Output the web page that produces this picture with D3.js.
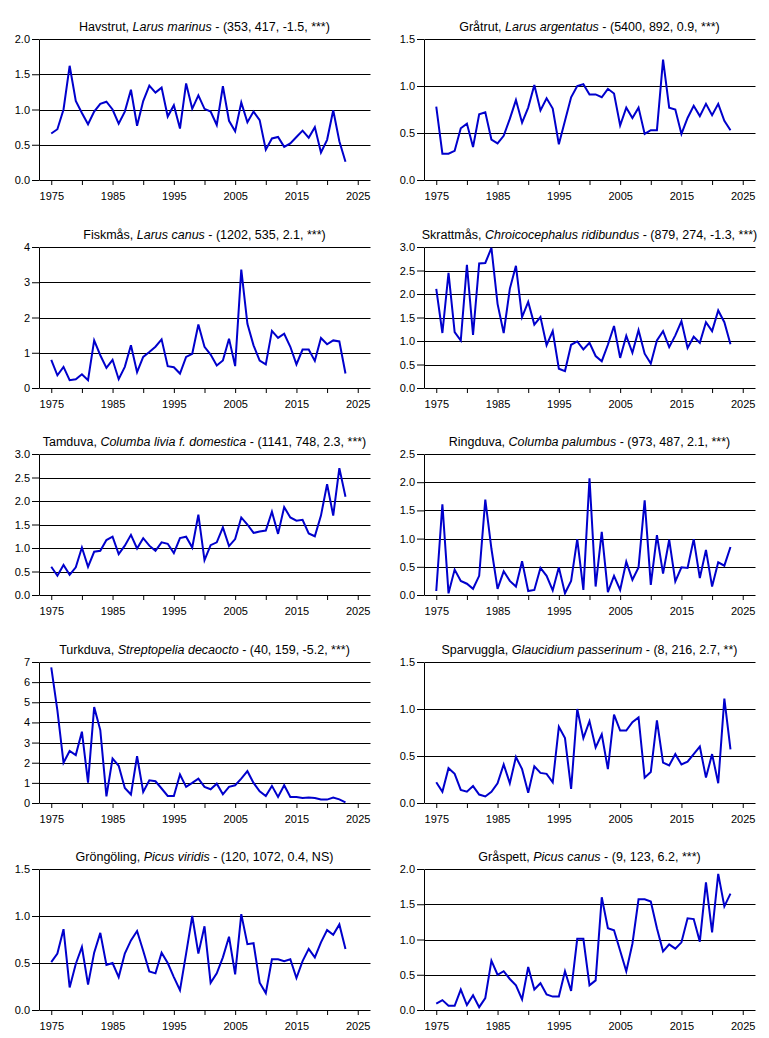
<!DOCTYPE html>
<html>
<head>
<meta charset="utf-8">
<script src="https://cdn.jsdelivr.net/npm/d3@7/dist/d3.min.js"></script>
<style>
  body { margin: 0; background: #fff; }
  svg text { font-family: "Liberation Sans", Arial, sans-serif; fill: #000; }
</style>
</head>
<body>
<svg id="chart" width="769" height="1038"></svg>
<script>

//============================================================
// Data (index per year)
//------------------------------------------------------------

var years = [1975, 1976, 1977, 1978, 1979, 1980, 1981, 1982, 1983, 1984,
             1985, 1986, 1987, 1988, 1989, 1990, 1991, 1992, 1993, 1994,
             1995, 1996, 1997, 1998, 1999, 2000, 2001, 2002, 2003, 2004,
             2005, 2006, 2007, 2008, 2009, 2010, 2011, 2012, 2013, 2014,
             2015, 2016, 2017, 2018, 2019, 2020, 2021, 2022, 2023];

var xTicks = [1975, 1980, 1985, 1990, 1995, 2000, 2005, 2010, 2015, 2020, 2025];
var xLabels = [1975, 1985, 1995, 2005, 2015, 2025];

var havstrut = [0.66, 0.72, 1.00, 1.62, 1.12, 0.95, 0.79, 0.97, 1.08, 1.11,
                1.00, 0.80, 0.97, 1.28, 0.77, 1.12, 1.34, 1.24, 1.31, 0.90,
                1.06, 0.73, 1.37, 1.01, 1.20, 1.01, 0.97, 0.78, 1.33, 0.84,
                0.69, 1.10, 0.82, 0.97, 0.85, 0.43, 0.59, 0.61, 0.47, 0.52,
                0.61, 0.70, 0.60, 0.75, 0.39, 0.57, 0.99, 0.55, 0.26];

var gratrut = [0.78, 0.28, 0.28, 0.31, 0.55, 0.60, 0.35, 0.70, 0.72, 0.43,
               0.39, 0.47, 0.65, 0.85, 0.61, 0.77, 1.01, 0.74, 0.87, 0.76,
               0.38, 0.63, 0.88, 1.00, 1.02, 0.91, 0.91, 0.88, 0.97, 0.92,
               0.58, 0.77, 0.66, 0.77, 0.49, 0.53, 0.53, 1.28, 0.77, 0.75,
               0.49, 0.66, 0.79, 0.68, 0.81, 0.69, 0.81, 0.63, 0.53];

var fiskmas = [0.80, 0.36, 0.60, 0.22, 0.25, 0.39, 0.22, 1.35, 0.93, 0.57,
               0.80, 0.25, 0.60, 1.21, 0.45, 0.88, 1.02, 1.17, 1.38, 0.62,
               0.59, 0.41, 0.88, 0.97, 1.80, 1.17, 0.95, 0.64, 0.78, 1.40,
               0.62, 3.36, 1.82, 1.21, 0.78, 0.67, 1.62, 1.42, 1.54, 1.17,
               0.67, 1.09, 1.09, 0.77, 1.42, 1.24, 1.35, 1.32, 0.41];

var skrattmas = [2.11, 1.17, 2.45, 1.19, 1.01, 2.62, 1.13, 2.65, 2.66, 2.98,
                 1.79, 1.17, 2.11, 2.60, 1.51, 1.83, 1.35, 1.51, 0.91, 1.21,
                 0.41, 0.36, 0.92, 0.99, 0.82, 0.96, 0.68, 0.57, 0.92, 1.32,
                 0.64, 1.11, 0.75, 1.23, 0.73, 0.52, 1.01, 1.21, 0.87, 1.12,
                 1.42, 0.85, 1.09, 0.96, 1.40, 1.21, 1.65, 1.40, 0.93];

var tamduva = [0.60, 0.41, 0.64, 0.43, 0.59, 1.01, 0.60, 0.92, 0.94, 1.17,
               1.24, 0.87, 1.05, 1.28, 0.99, 1.21, 1.05, 0.94, 1.12, 1.09,
               0.89, 1.21, 1.24, 1.01, 1.71, 0.74, 1.06, 1.12, 1.44, 1.04,
               1.19, 1.65, 1.50, 1.32, 1.35, 1.37, 1.77, 1.30, 1.87, 1.65,
               1.58, 1.60, 1.31, 1.25, 1.69, 2.36, 1.69, 2.70, 2.09];

var ringduva = [0.07, 1.61, 0.03, 0.45, 0.25, 0.20, 0.11, 0.34, 1.69, 0.82,
                0.11, 0.42, 0.25, 0.15, 0.60, 0.07, 0.09, 0.48, 0.34, 0.08,
                0.49, 0.03, 0.25, 0.99, 0.09, 2.07, 0.15, 1.12, 0.05, 0.34,
                0.09, 0.59, 0.27, 0.49, 1.68, 0.18, 1.06, 0.38, 0.98, 0.24,
                0.49, 0.48, 0.99, 0.30, 0.80, 0.15, 0.58, 0.52, 0.85];

var turkduva = [6.73, 4.60, 2.00, 2.58, 2.38, 3.54, 1.01, 4.76, 3.62, 0.33,
                2.21, 1.85, 0.75, 0.42, 2.33, 0.55, 1.13, 1.08, 0.72, 0.35,
                0.35, 1.41, 0.80, 1.00, 1.21, 0.80, 0.68, 0.96, 0.43, 0.80,
                0.88, 1.21, 1.58, 1.00, 0.58, 0.35, 0.85, 0.30, 0.88, 0.30,
                0.30, 0.25, 0.27, 0.25, 0.17, 0.17, 0.27, 0.18, 0.03];

var sparvuggla = [0.22, 0.12, 0.37, 0.31, 0.14, 0.12, 0.18, 0.09, 0.07, 0.12,
                  0.21, 0.41, 0.21, 0.49, 0.36, 0.11, 0.39, 0.32, 0.31, 0.22,
                  0.81, 0.69, 0.15, 1.00, 0.69, 0.87, 0.59, 0.73, 0.36, 0.94,
                  0.77, 0.77, 0.86, 0.91, 0.27, 0.33, 0.88, 0.43, 0.40, 0.52,
                  0.41, 0.44, 0.52, 0.60, 0.27, 0.52, 0.21, 1.11, 0.57];

var grongoling = [0.51, 0.60, 0.86, 0.24, 0.49, 0.67, 0.27, 0.61, 0.82, 0.48,
                  0.50, 0.35, 0.60, 0.74, 0.84, 0.63, 0.41, 0.39, 0.61, 0.50,
                  0.35, 0.21, 0.60, 1.00, 0.60, 0.89, 0.29, 0.39, 0.56, 0.78,
                  0.38, 1.02, 0.70, 0.71, 0.29, 0.18, 0.54, 0.54, 0.52, 0.54,
                  0.34, 0.52, 0.65, 0.56, 0.72, 0.85, 0.80, 0.91, 0.65];

var graspett = [0.09, 0.14, 0.06, 0.06, 0.29, 0.07, 0.21, 0.04, 0.17, 0.70,
                0.50, 0.55, 0.44, 0.35, 0.15, 0.61, 0.29, 0.38, 0.22, 0.19,
                0.19, 0.55, 0.27, 1.01, 1.01, 0.35, 0.42, 1.60, 1.16, 1.13,
                0.84, 0.55, 0.94, 1.57, 1.57, 1.54, 1.16, 0.83, 0.93, 0.87,
                0.96, 1.30, 1.29, 0.97, 1.81, 1.10, 1.93, 1.47, 1.65];

// panel titles and y-axis tick labels, in reading order
var names   = ['Havstrut', 'Gråtrut', 'Fiskmås', 'Skrattmås', 'Tamduva',
               'Ringduva', 'Turkduva', 'Sparvuggla', 'Gröngöling', 'Gråspett'];
var latin   = ['Larus marinus', 'Larus argentatus', 'Larus canus',
               'Chroicocephalus ridibundus', 'Columba livia f. domestica',
               'Columba palumbus', 'Streptopelia decaocto',
               'Glaucidium passerinum', 'Picus viridis', 'Picus canus'];
var stats   = ['(353, 417, -1.5, ***)', '(5400, 892, 0.9, ***)',
               '(1202, 535, 2.1, ***)', '(879, 274, -1.3, ***)',
               '(1141, 748, 2.3, ***)', '(973, 487, 2.1, ***)',
               '(40, 159, -5.2, ***)', '(8, 216, 2.7, **)',
               '(120, 1072, 0.4, NS)', '(9, 123, 6.2, ***)'];
var yTicks  = [[0, 0.5, 1, 1.5, 2], [0, 0.5, 1, 1.5], [0, 1, 2, 3, 4],
               [0, 0.5, 1, 1.5, 2, 2.5, 3], [0, 0.5, 1, 1.5, 2, 2.5, 3],
               [0, 0.5, 1, 1.5, 2, 2.5], [0, 1, 2, 3, 4, 5, 6, 7],
               [0, 0.5, 1, 1.5], [0, 0.5, 1, 1.5], [0, 0.5, 1, 1.5, 2]];
var series  = [havstrut, gratrut, fiskmas, skrattmas, tamduva,
               ringduva, turkduva, sparvuggla, grongoling, graspett];

//============================================================


//------------------------------------------------------------
// Layout

var svg = d3.select('#chart'),
    colLeft = [39, 424],
    plotWidth = 331,
    plotHeight = 141,
    rowTop = function(r) { return Math.round(39 + r * 207.6) },
    lineColor = '#0000cc';

//------------------------------------------------------------


series.forEach(function(values, i) {
  var left = colLeft[i % 2],
      top = rowTop(Math.floor(i / 2)),
      ticks = yTicks[i],
      yMax = ticks[ticks.length - 1],
      intTicks = ticks.every(function(t) { return t === Math.round(t) }),
      g = svg.append('g').attr('class', 'panel');

  var x = d3.scaleLinear()
      .domain([1973, 2027])
      .range([left, left + plotWidth]);

  var y = d3.scaleLinear()
      .domain([0, yMax])
      .range([top + plotHeight, top]);

  // gridlines
  g.selectAll('line.grid')
      .data(ticks.slice(1))
    .enter().append('line')
      .attr('class', 'grid')
      .attr('x1', left + 0.5)
      .attr('x2', left + plotWidth + 0.5)
      .attr('y1', function(d) { return Math.round(y(d)) + 0.5 })
      .attr('y2', function(d) { return Math.round(y(d)) + 0.5 })
      .style('stroke', '#000')
      .style('stroke-width', 1);

  // axes
  var yAxis = g.append('g')
      .attr('transform', 'translate(' + left + ',0)')
      .call(d3.axisLeft(y)
        .tickValues(ticks)
        .tickSizeInner(7)
        .tickSizeOuter(0)
        .tickPadding(2)
        .tickFormat(intTicks ? d3.format('d') : d3.format('.1f')));

  var xAxis = g.append('g')
      .attr('transform', 'translate(0,' + (top + plotHeight) + ')')
      .call(d3.axisBottom(x)
        .tickValues(xTicks)
        .tickSizeInner(5)
        .tickSizeOuter(0)
        .tickPadding(7)
        .tickFormat(function(d) { return xLabels.indexOf(d) > -1 ? d : '' }));

  [yAxis, xAxis].forEach(function(a) {
    a.attr('font-family', null).attr('font-size', null);
    a.selectAll('text').style('font-size', '11px');
    a.selectAll('path, line').style('stroke', '#000');
  });

  // series line
  g.append('path')
      .datum(values)
      .attr('d', d3.line()
        .x(function(d, j) { return x(years[j]) })
        .y(function(d) { return y(d) }))
      .style('fill', 'none')
      .style('stroke', lineColor)
      .style('stroke-width', 2);

  // title
  var title = g.append('text')
      .attr('x', left + plotWidth / 2)
      .attr('y', top - 8)
      .attr('text-anchor', 'middle')
      .style('font-size', '12.5px');
  title.append('tspan').text(names[i] + ', ');
  title.append('tspan').style('font-style', 'italic').text(latin[i]);
  title.append('tspan').text(' - ' + stats[i]);
});

</script>
</body>
</html>
